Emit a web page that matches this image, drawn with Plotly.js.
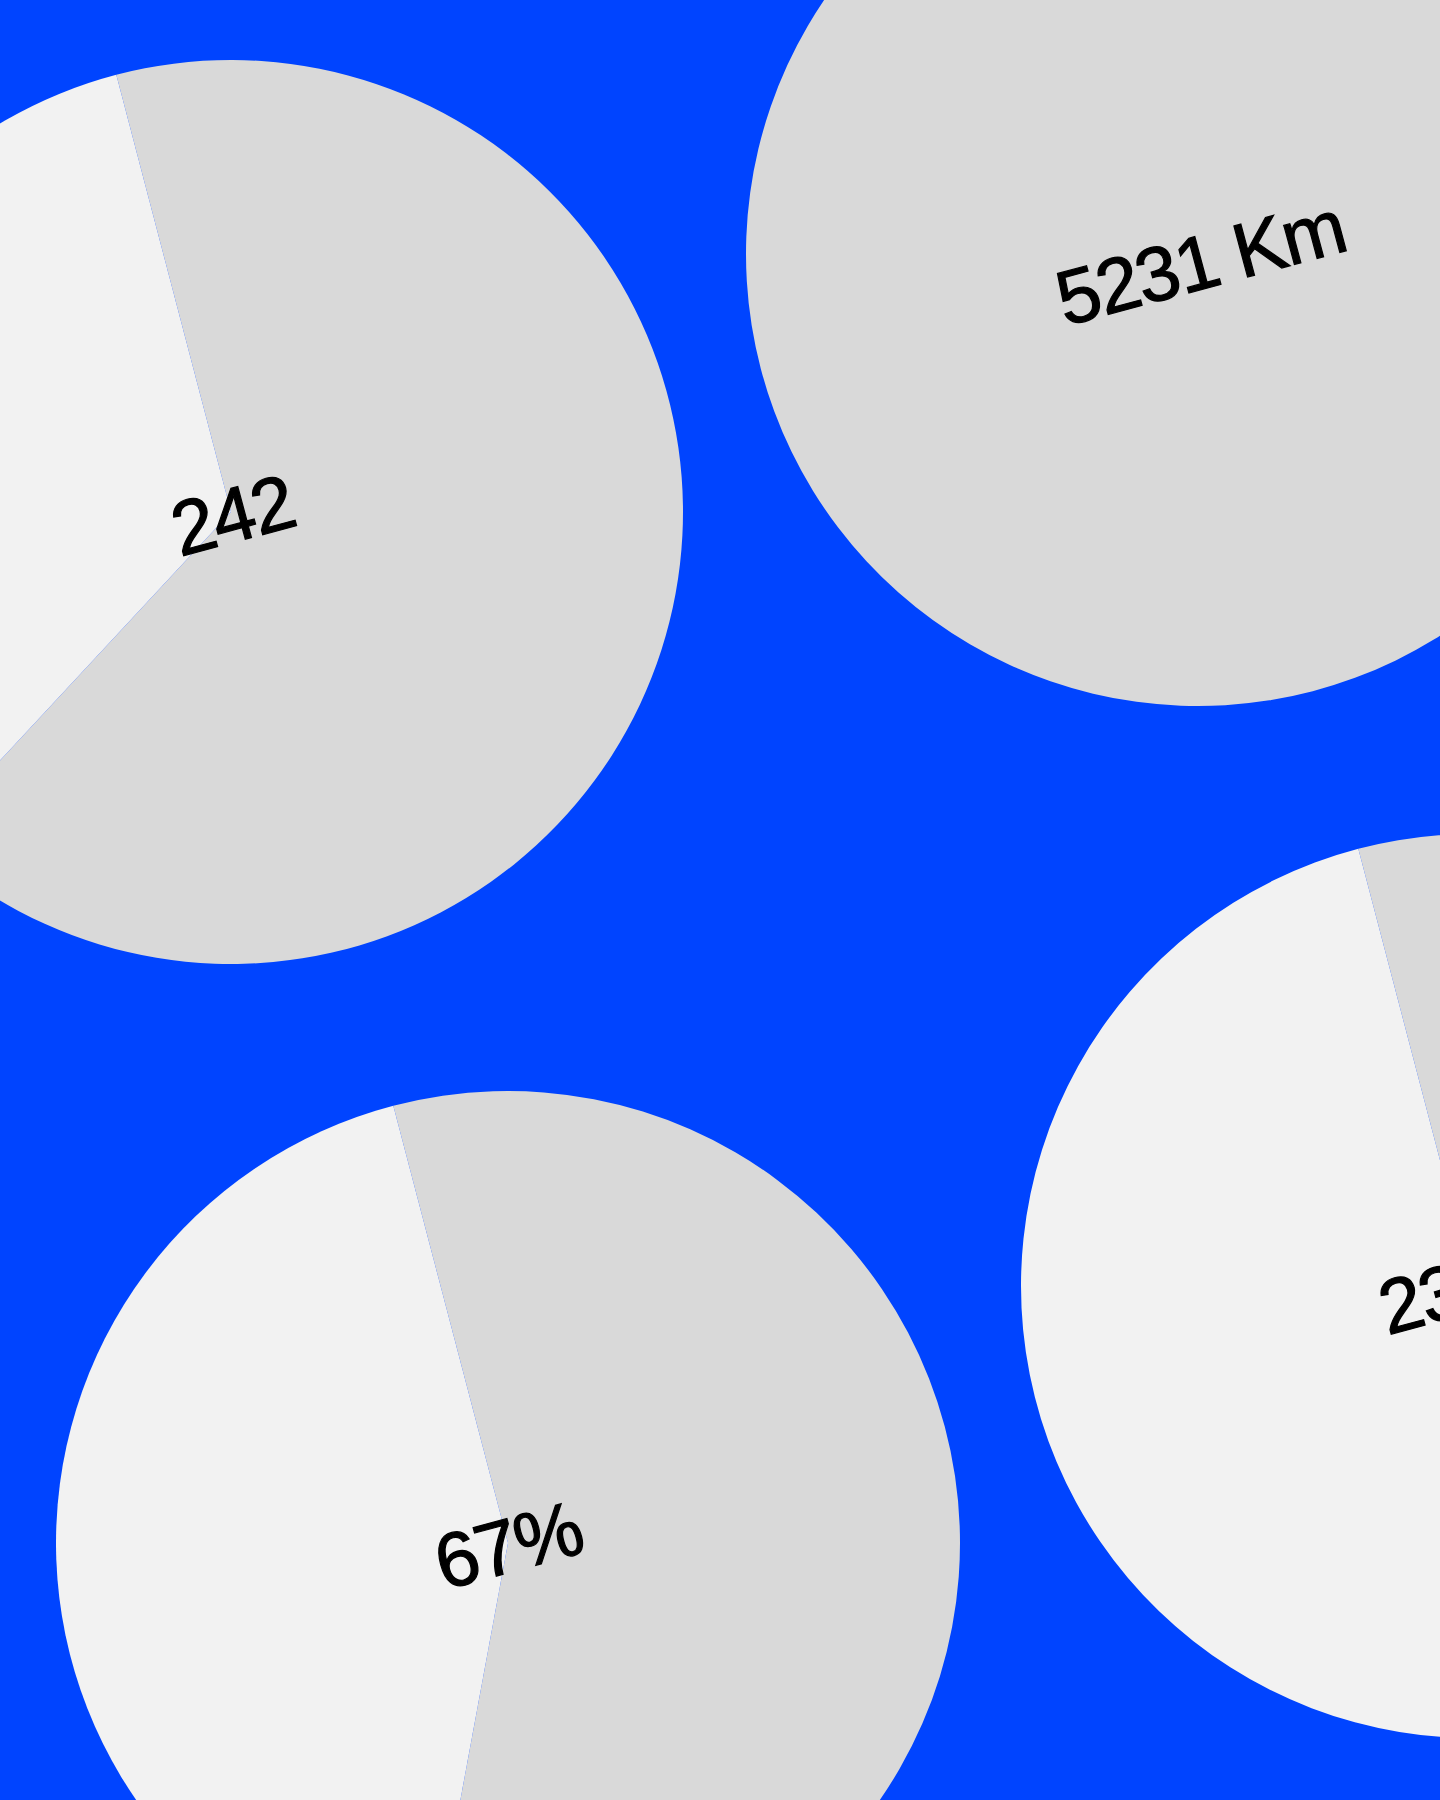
<!DOCTYPE html>
<html>
<head>
<meta charset="utf-8">
<script src="https://cdn.plot.ly/plotly-3.0.1.min.js"></script>
<style>
html, body { margin: 0; padding: 0; width: 1440px; height: 1800px; overflow: hidden; background: #0044ff; }
#wrap { position: absolute; left: 0; top: 0; width: 1440px; height: 1800px; overflow: hidden; }
#chart { position: absolute; left: -300px; top: -300px; width: 2300px; height: 2400px; }
#chart .annotation-text { letter-spacing: -2px; stroke: #000000; stroke-width: 1.2px; }
</style>
</head>
<body>
<div id="wrap"><div id="chart"></div></div>
<script>
// ---- data ----
const sliceNames = ['Part A', 'Part B'];
const pie1Values = [66, 34];
const pie2Values = [100];
const pie3Values = [57, 43];
const pie4Values = [23, 77];
const centerLabels = ['242', '5231 Km', '67%', '23%'];

// ---- styles / layout ----
const sliceColors = ['#d9d9d9', '#f2f2f2'];
const W = 2300, H = 2400, OX = -300, OY = -300;
const R = 452;
const centers = [[231, 512], [1198, 254], [508, 1543], [1473, 1286]];
const labelPos = [[232, 515], [1200, 262], [508, 1545], [1452, 1290]];
const allValues = [pie1Values, pie2Values, pie3Values, pie4Values];

const traces = allValues.map((vals, i) => {
  const [cx, cy] = centers[i];
  return {
    type: 'pie',
    labels: sliceNames.slice(0, vals.length),
    values: vals,
    sort: false,
    direction: 'clockwise',
    rotation: -14.7,
    textinfo: 'none',
    hoverinfo: 'skip',
    showlegend: false,
    marker: { colors: sliceColors.slice(0, vals.length), line: { width: 0 } },
    domain: {
      x: [(cx - R - OX) / W, (cx + R - OX) / W],
      y: [1 - (cy + R - OY) / H, 1 - (cy - R - OY) / H]
    }
  };
});

const annotations = centerLabels.map((t, i) => ({
  text: t,
  xref: 'paper', yref: 'paper',
  x: (labelPos[i][0] - OX) / W,
  y: 1 - (labelPos[i][1] - OY) / H,
  xanchor: 'center', yanchor: 'middle',
  showarrow: false,
  textangle: -15,
  font: { family: 'Liberation Sans, Arial, Helvetica, sans-serif', size: 77, color: '#000000' }
}));

Plotly.newPlot('chart', traces, {
  width: W, height: H, autosize: false,
  margin: { l: 0, r: 0, t: 0, b: 0, pad: 0 },
  paper_bgcolor: '#0044ff', plot_bgcolor: '#0044ff',
  showlegend: false,
  annotations: annotations
}, { staticPlot: true, displayModeBar: false });
</script>
</body>
</html>
